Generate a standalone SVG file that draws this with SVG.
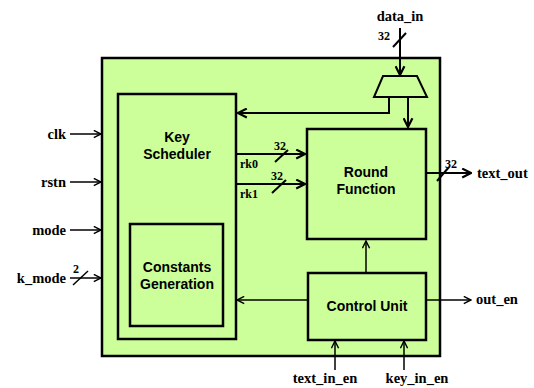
<svg xmlns="http://www.w3.org/2000/svg" width="534" height="388" viewBox="0 0 534 388">
<style>
.blk{fill:#CCFF99;stroke:#000;stroke-width:2.5}
.w{stroke:#000;stroke-width:1.5;fill:none}
.bus{stroke:#000;stroke-width:2;fill:none}
.lbl{font-family:"Liberation Serif",serif;font-weight:bold;font-size:14.5px;fill:#000}
.sm{font-family:"Liberation Serif",serif;font-weight:bold;font-size:12px;fill:#000}
.bt{font-family:"Liberation Sans",Arial,sans-serif;font-weight:bold;font-size:14px;fill:#000;text-anchor:middle}
</style>
<defs>
<marker id="a" viewBox="0 0 10 10" refX="9" refY="5" markerWidth="9" markerHeight="9" markerUnits="userSpaceOnUse" orient="auto">
<path d="M1,1 L9,5 L1,9" fill="none" stroke="#000" stroke-width="1.6"/>
</marker>
<marker id="ab" viewBox="0 0 10 10" refX="9" refY="5" markerWidth="11" markerHeight="11" markerUnits="userSpaceOnUse" orient="auto">
<path d="M1,1 L9,5 L1,9" fill="none" stroke="#000" stroke-width="2"/>
</marker>
</defs>
<g id="top">
<rect class="blk" x="102" y="58" width="338" height="298"/>
</g>
<g id="keysched">
<rect class="blk" x="118" y="94" width="118" height="245"/>
<text class="bt" x="177" y="142">Key</text>
<text class="bt" x="177" y="159">Scheduler</text>
</g>
<g id="constgen">
<rect class="blk" x="130" y="224" width="93" height="102"/>
<text class="bt" x="177" y="272">Constants</text>
<text class="bt" x="177" y="289">Generation</text>
</g>
<g id="roundfn">
<rect class="blk" x="307" y="129" width="119" height="110"/>
<text class="bt" x="366" y="177">Round</text>
<text class="bt" x="366" y="194">Function</text>
</g>
<g id="ctrl">
<rect class="blk" x="308" y="273" width="118" height="67"/>
<text class="bt" x="367" y="311">Control Unit</text>
</g>
<g id="mux">
<polygon class="blk" points="383,76 417,76 427,97 374,97" style="stroke-width:2"/>
</g>
<g id="connectors">
<line class="bus" x1="400" y1="28" x2="400" y2="75" marker-end="url(#ab)"/>
<line class="bus" x1="393" y1="47" x2="406" y2="33"/>
<polyline class="bus" points="389,97 389,113 238,113" marker-end="url(#ab)"/>
<line class="bus" x1="408" y1="97" x2="408" y2="127" marker-end="url(#ab)"/>
<line class="bus" x1="236" y1="154" x2="305" y2="154" marker-end="url(#ab)"/>
<line class="bus" x1="275" y1="162" x2="288" y2="150"/>
<line class="bus" x1="236" y1="184" x2="305" y2="184" marker-end="url(#ab)"/>
<line class="bus" x1="272" y1="193" x2="286" y2="180"/>
<line class="bus" x1="426" y1="173" x2="471" y2="173" marker-end="url(#ab)"/>
<line class="bus" x1="437" y1="181" x2="449" y2="167"/>
<line class="w" x1="70" y1="134" x2="101" y2="134" marker-end="url(#a)"/>
<line class="w" x1="70" y1="182" x2="101" y2="182" marker-end="url(#a)"/>
<line class="w" x1="70" y1="230" x2="101" y2="230" marker-end="url(#a)"/>
<line class="w" x1="70" y1="278" x2="101" y2="278" marker-end="url(#a)"/>
<line class="w" x1="73" y1="285" x2="88" y2="271"/>
<line class="w" x1="366" y1="273" x2="366" y2="241" marker-end="url(#a)"/>
<line class="w" x1="308" y1="300" x2="237" y2="300" marker-end="url(#a)"/>
<line class="w" x1="426" y1="300" x2="471" y2="300" marker-end="url(#a)"/>
<line class="w" x1="335" y1="370" x2="335" y2="341" marker-end="url(#a)"/>
<line class="w" x1="404" y1="370" x2="404" y2="341" marker-end="url(#a)"/>
</g>
<g id="labels">
<text class="lbl" x="400" y="21" text-anchor="middle">data_in</text>
<text class="sm" x="390" y="40" text-anchor="end">32</text>
<text class="sm" x="280" y="150" text-anchor="middle">32</text>
<text class="sm" x="240" y="168">rk0</text>
<text class="sm" x="277" y="180" text-anchor="middle">32</text>
<text class="sm" x="240" y="198">rk1</text>
<text class="sm" x="451" y="168" text-anchor="middle">32</text>
<text class="lbl" x="477" y="178">text_out</text>
<text class="lbl" x="66" y="139" text-anchor="end">clk</text>
<text class="lbl" x="66" y="187" text-anchor="end">rstn</text>
<text class="lbl" x="66" y="235" text-anchor="end">mode</text>
<text class="lbl" x="66" y="283" text-anchor="end">k_mode</text>
<text class="sm" x="76" y="273" text-anchor="middle">2</text>
<text class="lbl" x="476" y="304">out_en</text>
<text class="lbl" x="325" y="383" text-anchor="middle">text_in_en</text>
<text class="lbl" x="417" y="383" text-anchor="middle">key_in_en</text>
</g>
</svg>
